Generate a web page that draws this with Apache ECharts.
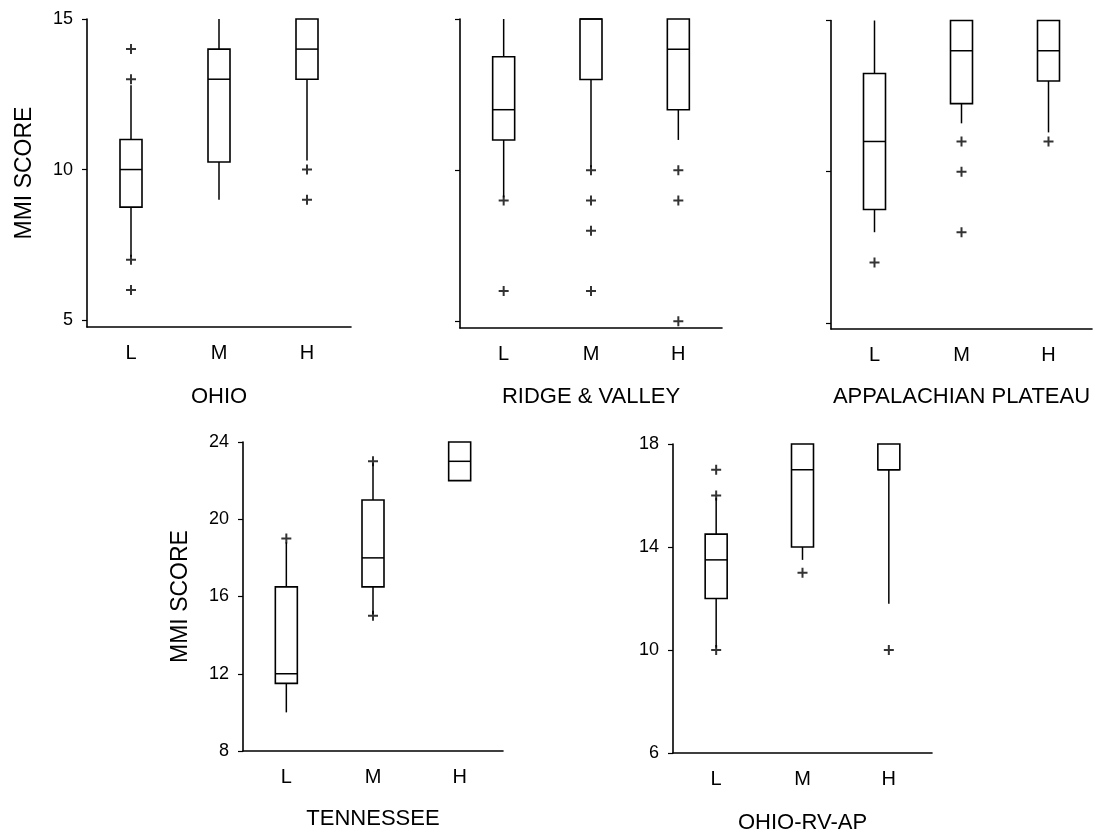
<!DOCTYPE html>
<html>
<head>
<meta charset="utf-8">
<title>MMI SCORE</title>
<script src="https://cdn.jsdelivr.net/npm/echarts@6/dist/echarts.min.js"></script>
<style>
  body { margin: 0; background: #fff; }
  #main { width: 1106px; height: 835px; }
</style>
</head>
<body>
<div id="main"></div>
<script>
// categories
var categories = ['L', 'M', 'H'];

// box stats per category: [whisker low, q1, median, q3, whisker high]
var ohioBox = [[7.1, 8.75, 10, 11, 12.8], [9, 10.25, 13, 14, 15], [10.3, 13, 14, 15, 15]];
var ohioOut = [[14, 13, 7, 6], [], [10, 9]];

var rvBox = [[9.1, 11, 12, 13.75, 15], [10.1, 13, 15, 15, 15], [11, 12, 14, 15, 15]];
var rvOut = [[9, 6], [10, 9, 8, 6], [10, 9, 5]];

var apBox = [[8, 8.75, 11, 13.25, 15], [11.6, 12.25, 14, 15, 15], [11.3, 13, 14, 15, 15]];
var apOut = [[7], [11, 10, 8], [11]];

var tnBox = [[10, 11.5, 12, 16.5, 18.8], [15.1, 16.5, 18, 21, 22.9], [22, 22, 23, 24, 24]];
var tnOut = [[19], [15, 23], []];

var oraBox = [[10.1, 12, 13.5, 14.5, 15.9], [13.5, 14, 17, 18, 18], [11.8, 17, 17, 18, 18]];
var oraOut = [[17, 16, 10], [13], [10]];

// tick labels
var ticksTop = [5, 10, 15];
var ticksTN = [8, 12, 16, 20, 24];
var ticksORA = [6, 10, 14, 18];

var titles = ['OHIO', 'RIDGE & VALLEY', 'APPALACHIAN PLATEAU', 'TENNESSEE', 'OHIO-RV-AP'];

var FONT = 'Liberation Sans';

// panel layout (px)
var panels = [
  {box: ohioBox, out: ohioOut, ticks: ticksTop, min: 4.77, max: 15, left: 87, top: 19, width: 264, height: 308, labels: true, gap: 59},
  {box: rvBox, out: rvOut, ticks: ticksTop, min: 4.78, max: 15, left: 460, top: 19, width: 262, height: 309, labels: false, gap: 58},
  {box: apBox, out: apOut, ticks: ticksTop, min: 4.8, max: 15, left: 831, top: 20.5, width: 261, height: 308.5, labels: false, gap: 57},
  {box: tnBox, out: tnOut, ticks: ticksTN, min: 8, max: 24, left: 243, top: 442, width: 260, height: 309, labels: true, gap: 57},
  {box: oraBox, out: oraOut, ticks: ticksORA, min: 6, max: 18, left: 673, top: 444, width: 259, height: 309, labels: true, gap: 59}
];

var chart = echarts.init(document.getElementById('main'));

var grids = [], xAxes = [], yAxes = [], series = [];

// box without whisker caps
function renderBox(params, api) {
  var x = api.value(0);
  var lo = api.coord([x, api.value(1)]);
  var q1 = api.coord([x, api.value(2)]);
  var med = api.coord([x, api.value(3)]);
  var q3 = api.coord([x, api.value(4)]);
  var hi = api.coord([x, api.value(5)]);
  var hw = 11;
  var st = {stroke: '#000', lineWidth: 1.5, fill: null};
  var children = [];
  if (lo[1] - q1[1] > 0.5) {
    children.push({type: 'line', shape: {x1: q1[0], y1: q1[1], x2: lo[0], y2: lo[1]}, style: st});
  }
  if (q3[1] - hi[1] > 0.5) {
    children.push({type: 'line', shape: {x1: q3[0], y1: q3[1], x2: hi[0], y2: hi[1]}, style: st});
  }
  children.push({type: 'rect', shape: {x: q1[0] - hw, y: q3[1], width: hw * 2, height: q1[1] - q3[1]},
    style: {stroke: '#000', lineWidth: 1.6, fill: '#fff'}});
  children.push({type: 'line', shape: {x1: med[0] - hw, y1: med[1], x2: med[0] + hw, y2: med[1]}, style: st});
  return {type: 'group', children: children};
}

var plus = 'path://M4,0H6V4H10V6H6V10H4V6H0V4H4Z';

for (var i = 0; i < panels.length; i++) {
  var p = panels[i];
  grids.push({left: p.left, top: p.top, width: p.width, height: p.height, containLabel: false});
  xAxes.push({
    type: 'category',
    gridIndex: i,
    data: categories,
    boundaryGap: true,
    name: titles[i],
    nameLocation: 'middle',
    nameGap: p.gap,
    nameTextStyle: {fontFamily: FONT, fontSize: 22, color: '#000'},
    axisLine: {lineStyle: {color: '#000', width: 1.6}},
    axisTick: {alignWithLabel: true, length: 5, lineStyle: {color: '#000', width: 1.2}},
    axisLabel: {fontFamily: FONT, fontSize: 20, color: '#000', margin: 16},
    splitLine: {show: false}
  });
  yAxes.push({
    type: 'value',
    gridIndex: i,
    min: p.min,
    max: p.max,
    name: (i == 0 || i == 3) ? 'MMI SCORE' : '',
    nameLocation: 'middle',
    nameGap: 51,
    nameTextStyle: {fontFamily: FONT, fontSize: 23, color: '#000'},
    axisLine: {show: true, lineStyle: {color: '#000', width: 1.6}},
    axisTick: {show: true, length: 5, customValues: p.ticks, lineStyle: {color: '#000', width: 1.2}},
    axisLabel: {show: p.labels, customValues: p.ticks, fontFamily: FONT, fontSize: 18, color: '#000', margin: 14},
    splitLine: {show: false}
  });

  // box data from arrays
  var boxData = [];
  for (var c = 0; c < p.box.length; c++) {
    boxData.push([c].concat(p.box[c]));
  }
  series.push({
    type: 'custom',
    xAxisIndex: i,
    yAxisIndex: i,
    renderItem: renderBox,
    encode: {x: 0, y: [1, 2, 3, 4, 5]},
    data: boxData,
    silent: true
  });

  // outliers
  var outData = [];
  for (var c = 0; c < p.out.length; c++) {
    for (var k = 0; k < p.out[c].length; k++) {
      outData.push([c, p.out[c][k]]);
    }
  }
  series.push({
    type: 'scatter',
    xAxisIndex: i,
    yAxisIndex: i,
    symbol: plus,
    symbolSize: 10,
    itemStyle: {color: '#000'},
    data: outData,
    silent: true,
    z: 5
  });
}

chart.setOption({
  animation: false,
  backgroundColor: '#fff',
  grid: grids,
  xAxis: xAxes,
  yAxis: yAxes,
  series: series
});
</script>
</body>
</html>
